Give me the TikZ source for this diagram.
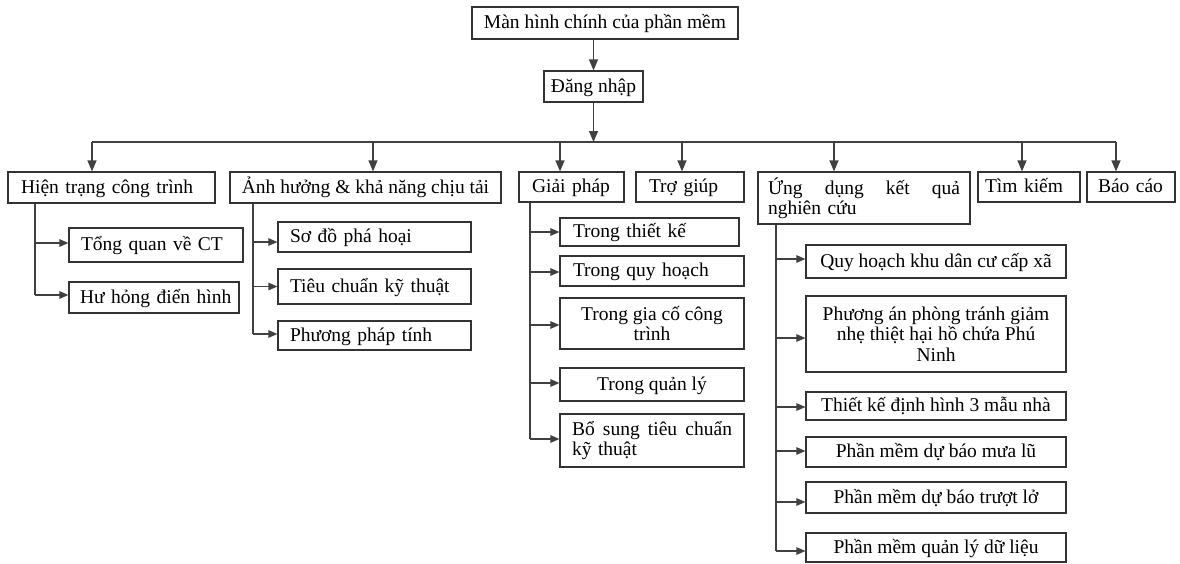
\documentclass[tikz,border=0pt]{standalone}
\usepackage{fontspec}
\setmainfont{Liberation Serif}
\usetikzlibrary{arrows.meta}
\begin{document}
\begin{tikzpicture}[x=1pt,y=-1pt,
  font=\fontsize{19.5}{20.5}\selectfont,
  box/.style={draw=black!80, line width=1.2pt, rectangle, inner ysep=0pt, fill=white},
  one/.style={text height=14pt, text depth=3pt},
  lbox/.style={align=left, inner xsep=#1},
  cbox/.style={align=center, inner xsep=0pt},
  link/.style={draw=black!75, line width=1.2pt},
  arr/.style={link, -{Triangle[length=11pt,width=9pt]}},
  subarr/.style={link, -{Triangle[length=9pt,width=7.5pt]}}
]
\path[use as bounding box] (0,0) rectangle (1180,563);

% top levels
\node[box,one,cbox,minimum width=266pt,minimum height=32pt] (top) at (605,23) {Màn hình chính của phần mềm};
\node[box,one,cbox,minimum width=99pt,minimum height=31pt] (dang) at (593.5,86.5) {Đăng nhập};

% level 1
\node[box,one,lbox=13pt,text width=181pt,minimum height=31pt] (h) at (111.5,187.5) {\mbox{Hiện trạng công trình}};
\node[box,one,cbox,minimum width=271pt,minimum height=31pt] (a) at (365.5,187.5) {Ảnh hưởng \& khả năng chịu tải};
\node[box,one,lbox=13pt,text width=79pt,minimum height=30pt] (g) at (571.5,187) {\mbox{Giải pháp}};
\node[box,one,lbox=13pt,text width=82pt,minimum height=30pt] (t) at (690,187) {\mbox{Trợ giúp}};
\node[box,lbox=10pt,text width=192pt,minimum height=52pt] (u) at (864,198) {Ứng\hfill dụng\hfill kết\hfill quả\\nghiên cứu};
\node[box,one,lbox=7pt,text width=88pt,minimum height=30pt] (k) at (1029,187) {\mbox{Tìm kiếm}};
\node[box,one,lbox=11pt,text width=66pt,minimum height=30pt] (bc) at (1131,187) {\mbox{Báo cáo}};

% level 2: Hien trang
\node[box,one,lbox=12pt,text width=150pt,minimum height=34pt] (s11) at (156,245) {\mbox{Tổng quan về CT}};
\node[box,one,lbox=11pt,text width=148pt,minimum height=31pt] (s12) at (154,297.5) {\mbox{Hư hỏng điển hình}};

% level 2: Anh huong
\node[box,one,lbox=12pt,text width=169pt,minimum height=30pt] (s21) at (374.5,237) {\mbox{Sơ đồ phá hoại}};
\node[box,one,lbox=12pt,text width=169pt,minimum height=35pt] (s22) at (374.5,286.5) {\mbox{Tiêu chuẩn kỹ thuật}};
\node[box,one,lbox=12pt,text width=169pt,minimum height=29pt] (s23) at (374.5,335.5) {\mbox{Phương pháp tính}};

% level 2: Giai phap
\node[box,one,lbox=13pt,text width=153pt,minimum height=28pt] (s31) at (649.5,232) {\mbox{Trong thiết kế}};
\node[box,one,lbox=13pt,text width=158pt,minimum height=30pt] (s32) at (652,271) {\mbox{Trong quy hoạch}};
\node[box,cbox,minimum width=184pt,minimum height=51pt] (s33) at (652,323.5) {Trong gia cố công\\trình};
\node[box,one,cbox,minimum width=184pt,minimum height=33pt] (s34) at (652,384.5) {Trong quản lý};
\node[box,lbox=12pt,text width=160pt,minimum height=53pt] (s35) at (652,440.5) {Bổ\hfill sung\hfill tiêu\hfill chuẩn\\kỹ thuật};

% level 2: Ung dung
\node[box,one,cbox,minimum width=260pt,minimum height=33pt] (s41) at (936,261.5) {Quy hoạch khu dân cư cấp xã};
\node[box,cbox,minimum width=260pt,minimum height=76pt] (s42) at (936,334) {Phương án phòng tránh giảm\\nhẹ thiệt hại hồ chứa Phú\\Ninh};
\node[box,one,cbox,minimum width=260pt,minimum height=28pt] (s43) at (936,406) {Thiết kế định hình 3 mẫu nhà};
\node[box,one,cbox,minimum width=260pt,minimum height=30pt] (s44) at (936,452) {Phần mềm dự báo mưa lũ};
\node[box,one,cbox,minimum width=260pt,minimum height=31pt] (s45) at (936,497.5) {Phần mềm dự báo trượt lở};
\node[box,one,cbox,minimum width=260pt,minimum height=29pt] (s46) at (936,547.5) {Phần mềm quản lý dữ liệu};

% main connectors
\coordinate (d1) at (92,142);
\coordinate (d2) at (373,142);
\coordinate (d3) at (560,142);
\coordinate (d4) at (682,142);
\coordinate (d5) at (834,142);
\coordinate (d6) at (1022,142);
\coordinate (d7) at (1116,142);

\draw[arr] (dang.north |- top.south) -- (dang.north);
\draw[arr] (dang.south) -- (dang.south |- d1);
\draw[link] (d1) -- (d7);
\draw[arr] (d1) -- (d1 |- h.north);
\draw[arr] (d2) -- (d2 |- a.north);
\draw[arr] (d3) -- (d3 |- g.north);
\draw[arr] (d4) -- (d4 |- t.north);
\draw[arr] (d5) -- (d5 |- u.north);
\draw[arr] (d6) -- (d6 |- k.north);
\draw[arr] (d7) -- (d7 |- bc.north);

% sub-connector end points
\coordinate (e11) at ([yshift=2pt]s11.west);
\coordinate (e12) at ([yshift=2.5pt]s12.west);
\coordinate (e21) at ([yshift=-5pt]s21.west);
\coordinate (e22) at (s22.west);
\coordinate (e23) at ([yshift=1.5pt]s23.west);
\coordinate (e31) at (s31.west);
\coordinate (e32) at ([yshift=-1pt]s32.west);
\coordinate (e33) at ([yshift=-1.5pt]s33.west);
\coordinate (e34) at ([yshift=1.5pt]s34.west);
\coordinate (e35) at ([yshift=1.5pt]s35.west);
\coordinate (e41) at ([yshift=2.5pt]s41.west);
\coordinate (e42) at ([yshift=-4pt]s42.west);
\coordinate (e43) at ([yshift=-1pt]s43.west);
\coordinate (e44) at ([yshift=1pt]s44.west);
\coordinate (e45) at ([yshift=-4.5pt]s45.west);
\coordinate (e46) at ([yshift=-3.5pt]s46.west);

\coordinate (v1) at (35,0);
\coordinate (v2) at (253,0);
\coordinate (v3) at (530,0);
\coordinate (v4) at (776,0);

\draw[link] (v1 |- h.south) -- (v1 |- e12);
\foreach \e in {e11,e12} \draw[subarr] (v1 |- \e) -- (\e);
\draw[link] (v2 |- a.south) -- (v2 |- e23);
\foreach \e in {e21,e22,e23} \draw[subarr] (v2 |- \e) -- (\e);
\draw[link] (v3 |- g.south) -- (v3 |- e35);
\foreach \e in {e31,e32,e33,e34,e35} \draw[subarr] (v3 |- \e) -- (\e);
\draw[link] (v4 |- u.south) -- (v4 |- e46);
\foreach \e in {e41,e42,e43,e44,e45,e46} \draw[subarr] (v4 |- \e) -- (\e);
\end{tikzpicture}
\end{document}
